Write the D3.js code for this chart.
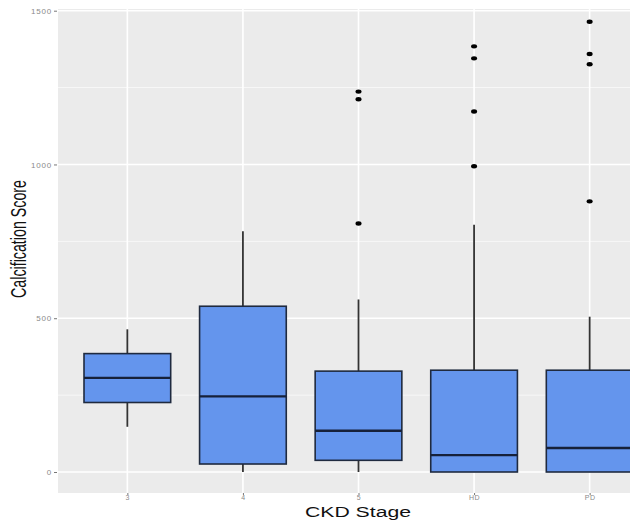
<!DOCTYPE html>
<html>
<head>
<meta charset="utf-8">
<script src="https://cdn.jsdelivr.net/npm/d3@7"></script>
<style>
  html, body { margin: 0; padding: 0; background: #fff; }
  svg { display: block; }
</style>
</head>
<body>
<svg id="chart" width="630" height="522"></svg>
<script>
// ---- data ----
const categories = ["3", "4", "5", "HD", "PD"];
const whiskerLow  = [147,   0,   0,   0,   0];
const q1          = [226,  26,  38,   0,   0];
const median      = [306, 246, 134,  55,  78];
const q3          = [385, 539, 328, 331, 331];
const whiskerHigh = [464, 783, 561, 804, 505];
const outliers = [
  [],
  [],
  [808, 1212, 1237],
  [994, 1172, 1345, 1384],
  [880, 1326, 1359, 1464]
];
const yTicks = [0, 500, 1000, 1500];
const yMinor = [250, 750, 1250];
const xTitle = "CKD Stage";
const yTitle = "Calcification Score";

// ---- layout ----
const svg = d3.select("#chart");
const panel = { left: 58, top: 9, right: 659, bottom: 493 };

// ggplot-style discrete scale: categories spaced evenly, outer expansion 0.6
const x = d3.scalePoint()
  .domain(categories)
  .range([panel.left, panel.right])
  .padding(0.6);
const xc = d => x(d);
const boxW = x.step() * 0.75;

const y = d3.scaleLinear()
  .domain([0, 1500])
  .range([472, 10.7]);

// panel background
svg.append("rect")
  .attr("x", panel.left).attr("y", panel.top)
  .attr("width", panel.right - panel.left)
  .attr("height", panel.bottom - panel.top)
  .attr("fill", "#EBEBEB");

// grid
const grid = svg.append("g");
grid.selectAll(".ymin").data(yMinor).enter().append("line")
  .attr("x1", panel.left).attr("x2", panel.right)
  .attr("y1", d => y(d)).attr("y2", d => y(d))
  .attr("stroke", "#fff").attr("stroke-width", 0.8).attr("opacity", 0.8);
grid.selectAll(".ymaj").data(yTicks).enter().append("line")
  .attr("x1", panel.left).attr("x2", panel.right)
  .attr("y1", d => y(d)).attr("y2", d => y(d))
  .attr("stroke", "#fff").attr("stroke-width", 1.6);
grid.selectAll(".xmaj").data(categories).enter().append("line")
  .attr("x1", d => xc(d)).attr("x2", d => xc(d))
  .attr("y1", panel.top).attr("y2", panel.bottom)
  .attr("stroke", "#fff").attr("stroke-width", 1.6);

// boxes
const g = svg.append("g");
categories.forEach((c, i) => {
  const cx = xc(c);
  g.append("line")
    .attr("x1", cx).attr("x2", cx)
    .attr("y1", y(q3[i])).attr("y2", y(whiskerHigh[i]))
    .attr("stroke", "#333").attr("stroke-width", 1.8);
  g.append("line")
    .attr("x1", cx).attr("x2", cx)
    .attr("y1", y(q1[i])).attr("y2", y(whiskerLow[i]))
    .attr("stroke", "#333").attr("stroke-width", 1.8);
  g.append("rect")
    .attr("x", cx - boxW / 2).attr("width", boxW)
    .attr("y", y(q3[i])).attr("height", y(q1[i]) - y(q3[i]))
    .attr("fill", "#6495ED")
    .attr("stroke", "#1f2a3f").attr("stroke-width", 1.6);
  g.append("line")
    .attr("x1", cx - boxW / 2).attr("x2", cx + boxW / 2)
    .attr("y1", y(median[i])).attr("y2", y(median[i]))
    .attr("stroke", "#16213a").attr("stroke-width", 2.4);
  g.selectAll(null).data(outliers[i]).enter().append("ellipse")
    .attr("cx", cx).attr("cy", d => y(d))
    .attr("rx", 3).attr("ry", 2.2)
    .attr("fill", "#000");
});

// y axis
const yAxis = d3.axisLeft(y).tickValues(yTicks).tickSize(3).tickPadding(2)
  .tickFormat(d3.format("d"));
const ya = svg.append("g").attr("transform", `translate(${panel.left - 1},0)`).call(yAxis);
ya.select(".domain").remove();
ya.selectAll(".tick line").attr("stroke", "#777").attr("stroke-width", 1);
ya.selectAll(".tick text").attr("fill", "#8a8a8a")
  .style("font-family", "Liberation Sans, Arial, sans-serif").style("font-size", "8px")
  .attr("letter-spacing", "0.8px");

// x axis
const xAxis = d3.axisBottom(x).tickSize(2).tickPadding(0);
const xa = svg.append("g").attr("transform", `translate(0,${panel.bottom})`).call(xAxis);
xa.select(".domain").remove();
xa.selectAll(".tick line").attr("stroke", "#777").attr("stroke-width", 1);
xa.selectAll(".tick text").attr("fill", "#8a8a8a")
  .style("font-family", "Liberation Sans, Arial, sans-serif").style("font-size", "7px")
  .attr("letter-spacing", "0.6px");

// titles
svg.append("text")
  .attr("x", 358).attr("y", 516.5)
  .attr("text-anchor", "middle")
  .style("font-family", "Liberation Sans, Arial, sans-serif")
  .style("font-size", "14px")
  .attr("textLength", 106).attr("lengthAdjust", "spacingAndGlyphs")
  .attr("fill", "#111")
  .text(xTitle);

svg.append("text")
  .attr("transform", "translate(26,239) rotate(-90)")
  .attr("text-anchor", "middle")
  .style("font-family", "Liberation Sans, Arial, sans-serif")
  .style("font-size", "22px")
  .attr("textLength", 118).attr("lengthAdjust", "spacingAndGlyphs")
  .attr("fill", "#111")
  .text(yTitle);
</script>
</body>
</html>
